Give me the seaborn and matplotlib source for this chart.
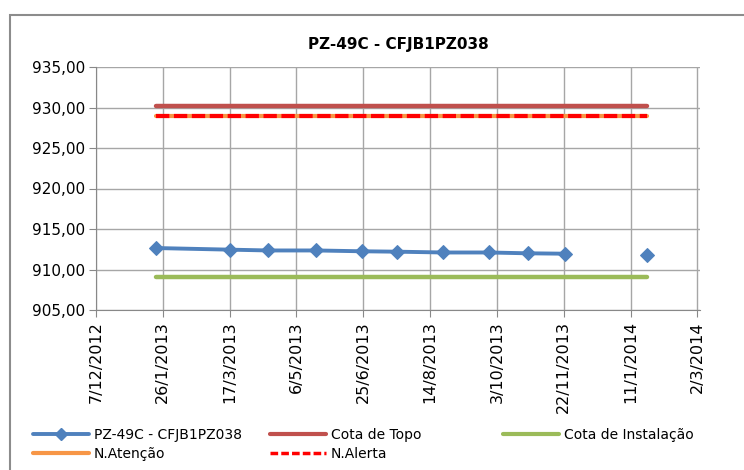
import numpy as np
import pandas as pd
import matplotlib
matplotlib.use("Agg")
import matplotlib.pyplot as plt
import matplotlib.dates as mdates
from matplotlib.lines import Line2D
from matplotlib.patches import Rectangle
import seaborn as sns

# ── data ──
title = "PZ-49C - CFJB1PZ038"
dates = ["2013-01-21", "2013-03-17", "2013-04-15", "2013-05-21", "2013-06-24",
         "2013-07-20", "2013-08-24", "2013-09-27", "2013-10-26", "2013-11-23",
         "2013-12-23", "2014-01-23"]
cota = [912.65, 912.45, 912.35, 912.35, 912.25, 912.2, 912.1, 912.1, 912.0, 911.95,
        np.nan, 911.85]
cota_topo = 930.2
cota_instalacao = 909.1
n_atencao = 929.0
n_alerta = 929.0

x_ticks = ["2012-12-07", "2013-01-26", "2013-03-17", "2013-05-06", "2013-06-25",
           "2013-08-14", "2013-10-03", "2013-11-22", "2014-01-11", "2014-03-02"]
y_ticks = [905, 910, 915, 920, 925, 930, 935]

df = pd.DataFrame({"data": pd.to_datetime(dates), "cota": cota})
# segment id so the line breaks at the missing reading
df["seg"] = df["cota"].isna().cumsum()
df = df.dropna()

span = pd.to_datetime([dates[0], dates[-1]])
levels = pd.DataFrame({
    "data": np.tile(span, 4),
    "nivel": np.repeat(["Cota de Topo", "Cota de Instalação", "N.Atenção", "N.Alerta"], 2),
    "valor": np.repeat([cota_topo, cota_instalacao, n_atencao, n_alerta], 2),
})

BLUE, RED, GREEN, ORANGE, ALERT = "#4F81BD", "#C0504D", "#9BBB59", "#F79646", "#FF0000"

sns.set_style("white")
plt.rcParams["font.family"] = ["DejaVu Sans"]
plt.rcParams["text.color"] = "black"
plt.rcParams["xtick.color"] = "black"
plt.rcParams["ytick.color"] = "black"

fig = plt.figure(figsize=(7.44, 4.70), dpi=100)
ax = fig.add_axes([96 / 744, 1 - 310 / 470, 604 / 744, 243 / 470])

# ── level lines ──
sns.lineplot(data=levels[levels.nivel == "Cota de Topo"], x="data", y="valor",
             color=RED, lw=3.2, ax=ax, solid_capstyle="round")
sns.lineplot(data=levels[levels.nivel == "Cota de Instalação"], x="data", y="valor",
             color=GREEN, lw=3.2, ax=ax, solid_capstyle="round")
sns.lineplot(data=levels[levels.nivel == "N.Atenção"], x="data", y="valor",
             color=ORANGE, lw=3.0, ax=ax)
sns.lineplot(data=levels[levels.nivel == "N.Alerta"], x="data", y="valor",
             color=ALERT, lw=3.0, ax=ax, linestyle=(0, (3.2, 1.1)))

# ── readings ──
sns.lineplot(data=df, x="data", y="cota", units="seg", estimator=None,
             color=BLUE, lw=2.8, marker="D", markersize=7.5, markeredgecolor=BLUE,
             ax=ax)

# ── axes ──
ax.set_xlim(mdates.date2num(pd.Timestamp(x_ticks[0])),
            mdates.date2num(pd.Timestamp(x_ticks[-1])) + 2)
ax.set_ylim(905, 935)
ax.set_xticks(mdates.date2num(pd.to_datetime(x_ticks)))
ax.set_xticklabels([f"{d.day}/{d.month}/{d.year}" for d in pd.to_datetime(x_ticks)],
                   rotation=90, fontsize=11.5)
ax.set_yticks(y_ticks)
ax.set_yticklabels([f"{v:.2f}".replace(".", ",") for v in y_ticks], fontsize=11)
ax.set_xlabel("")
ax.set_ylabel("")
ax.grid(True, color="#A6A6A6", lw=1)
for side in ["top", "right"]:
    ax.spines[side].set_visible(False)
for side in ["left", "bottom"]:
    ax.spines[side].set_color("#888888")
ax.tick_params(axis="both", direction="out", length=5, color="#888888",
               labelcolor="black", bottom=True, left=True, pad=3)
if ax.get_legend():
    ax.get_legend().remove()

fig.text(398 / 744, 1 - 45 / 470, title, ha="center", va="center",
         fontsize=11, fontweight="bold", color="black")

# ── legend (three columns, like Excel) ──
h_pz = Line2D([], [], color=BLUE, lw=2.8, marker="D", markersize=6)
h_topo = Line2D([], [], color=RED, lw=3)
h_inst = Line2D([], [], color=GREEN, lw=3)
h_at = Line2D([], [], color=ORANGE, lw=3)
h_al = Line2D([], [], color=ALERT, lw=2.5, linestyle=(0, (2.2, 0.9)))
kw = dict(frameon=False, fontsize=10, handlelength=4, handletextpad=0.4,
          labelspacing=0.35, loc="upper left", borderaxespad=0, borderpad=0,
          labelcolor="black")
leg1 = fig.legend([h_pz, h_at], [title, "N.Atenção"],
                  bbox_to_anchor=(33 / 744, 1 - 428 / 470), **kw)
leg2 = fig.legend([h_topo, h_al], ["Cota de Topo", "N.Alerta"],
                  bbox_to_anchor=(270 / 744, 1 - 428 / 470), **kw)
leg3 = fig.legend([h_inst], ["Cota de Instalação"],
                  bbox_to_anchor=(503 / 744, 1 - 428 / 470), **kw)

# chart-area border
fig.patches.append(Rectangle((10 / 744, -0.05), 1.0, 1 - 15 / 470 + 0.05,
                             transform=fig.transFigure, fill=False,
                             edgecolor="#8C8C8C", lw=1.5))

fig.savefig("out.png", dpi=100)
